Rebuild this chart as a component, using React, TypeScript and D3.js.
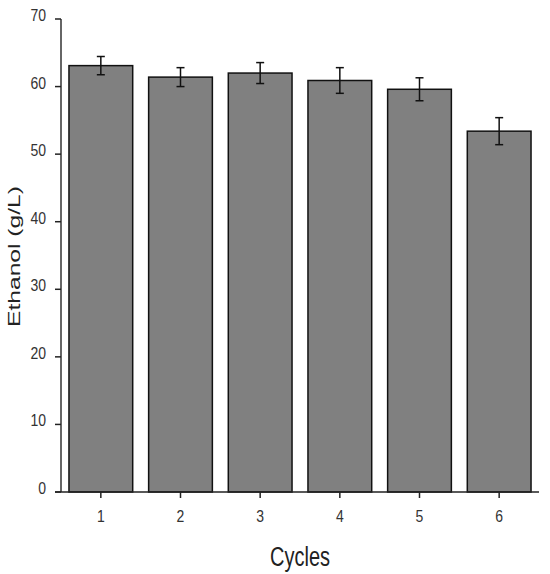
import React from "react";
import * as d3 from "d3";

const cycles = [1, 2, 3, 4, 5, 6];
const ethanol = [63.1, 61.4, 62.0, 60.9, 59.6, 53.4];
const errors = [1.35, 1.4, 1.55, 1.9, 1.7, 2.0];
const yTicks = [0, 10, 20, 30, 40, 50, 60, 70];

const W = 550;
const H = 574;
const left = 61;
const right = 539;
const top = 19;
const bottom = 492;

export default function App() {
  const x = d3.scaleLinear().domain([0.5, 6.5]).range([left, right]);
  const y = d3.scaleLinear().domain([0, 70]).range([bottom, top]);
  const bw = x(1.4) - x(0.6);
  const font = "'Liberation Sans', Arial, sans-serif";
  return (
    <svg width={W} height={H} style={{ position: "absolute", left: 0, top: 0 }} fontFamily={font}>
      <rect width={W} height={H} fill="#fff" />
      {cycles.map((c, i) => (
        <rect
          key={c}
          x={x(c) - bw / 2}
          y={y(ethanol[i])}
          width={bw}
          height={y(0) - y(ethanol[i])}
          fill="#808080"
          stroke="#111"
          strokeWidth={1.5}
        />
      ))}
      {cycles.map((c, i) => {
        const cx = x(c);
        const t = y(ethanol[i] + errors[i]);
        const b = y(ethanol[i] - errors[i]);
        return (
          <g key={"e" + c} stroke="#111" strokeWidth={1.5}>
            <line x1={cx} x2={cx} y1={t} y2={b} />
            <line x1={cx - 4} x2={cx + 4} y1={t} y2={t} />
            <line x1={cx - 4} x2={cx + 4} y1={b} y2={b} />
          </g>
        );
      })}
      <line x1={left} x2={left} y1={top} y2={bottom} stroke="#333" strokeWidth={1.5} />
      <line x1={left - 6} x2={right} y1={bottom} y2={bottom} stroke="#222" strokeWidth={1.5} />
      {yTicks.map((t) => (
        <g key={"y" + t}>
          <line x1={left - 6} x2={left} y1={y(t)} y2={y(t)} stroke="#222" strokeWidth={1.5} />
          <text
            transform={`translate(${left - 15}, ${y(t) + 2}) scale(1, 1.12)`}
            textAnchor="end"
            fontSize={14}
            fill="#333"
          >
            {t}
          </text>
        </g>
      ))}
      {cycles.map((c) => (
        <g key={"x" + c}>
          <line x1={x(c)} x2={x(c)} y1={bottom} y2={bottom + 6} stroke="#222" strokeWidth={1.5} />
          <text
            transform={`translate(${x(c)}, ${bottom + 30}) scale(1, 1.12)`}
            textAnchor="middle"
            fontSize={14}
            fill="#333"
          >
            {c}
          </text>
        </g>
      ))}
      <text
        transform={`translate(${(left + right) / 2}, 566) scale(1, 1.4)`}
        textAnchor="middle"
        fontSize={20}
        fill="#222"
      >
        Cycles
      </text>
      <text
        transform={`translate(20, 256.5) rotate(-90) scale(1.45, 1)`}
        textAnchor="middle"
        fontSize={17}
        fill="#222"
      >
        Ethanol (g/L)
      </text>
    </svg>
  );
}
